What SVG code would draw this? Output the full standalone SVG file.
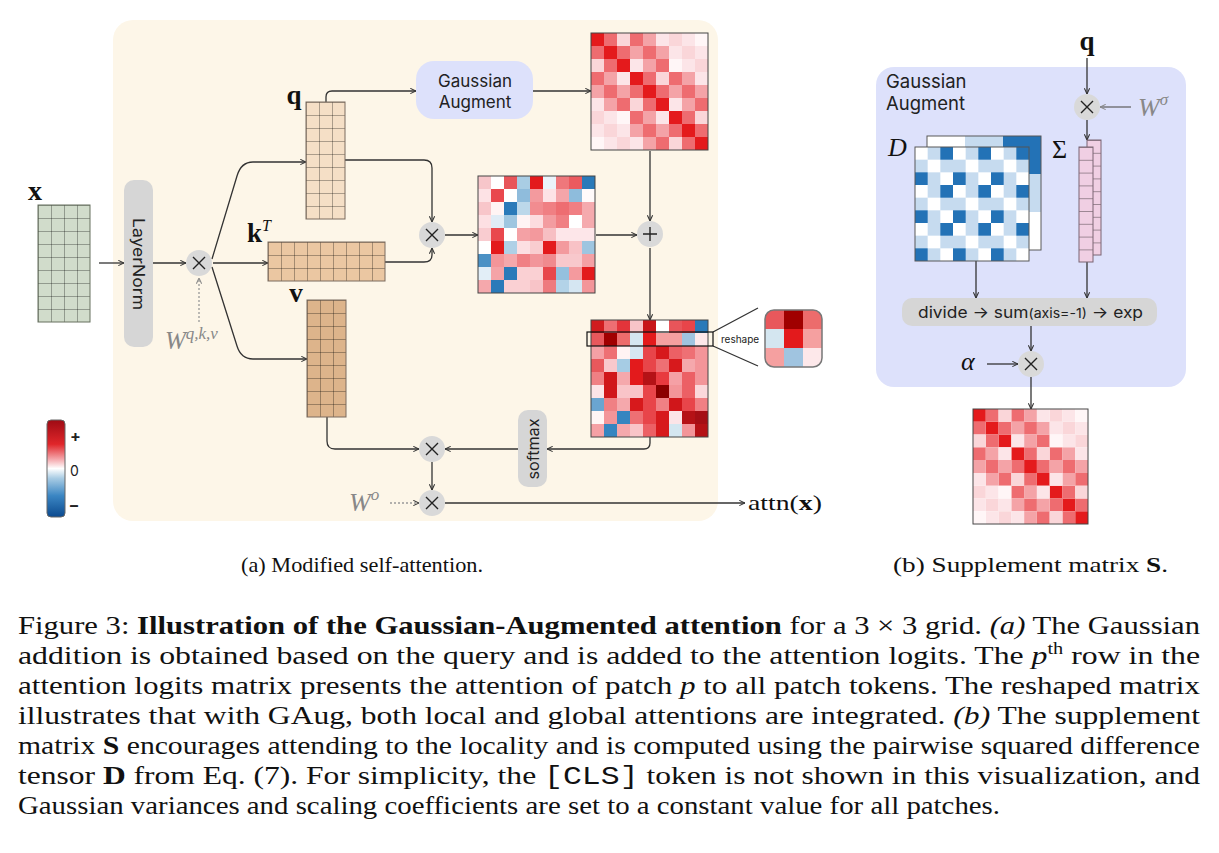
<svg xmlns="http://www.w3.org/2000/svg" width="1219" height="853" viewBox="0 0 1219 853">
<style>
.ln{fill:none;stroke:#333;stroke-width:1.3}
.ar{marker-end:url(#ah)}
.dt{fill:none;stroke:#999;stroke-width:1.3;stroke-dasharray:2 2}
.op{fill:#d9d9d9}
.gl{stroke:#222;stroke-width:1.4;fill:none}
.sans{font-family:Inter,"Open Sans","DejaVu Sans",sans-serif;fill:#222}
.serif{font-family:"Liberation Serif","Times New Roman",serif;fill:#111}
.math{font-family:"Liberation Serif","Times New Roman",serif;font-style:italic;fill:#888}
.bd{font-weight:bold}
.hm{stroke:#444;stroke-width:1;fill:none}
</style>
<defs>
<marker id="ah" viewBox="0 0 8 8" refX="7.5" refY="4" markerWidth="7" markerHeight="7" orient="auto" markerUnits="userSpaceOnUse">
<path d="M1,1 L7.5,4 L1,7" fill="none" stroke="#333" stroke-width="1.2"/>
</marker>
<marker id="ahg" viewBox="0 0 8 8" refX="7.5" refY="4" markerWidth="7" markerHeight="7" orient="auto" markerUnits="userSpaceOnUse">
<path d="M1,1 L7.5,4 L1,7" fill="none" stroke="#888" stroke-width="1.2"/>
</marker>
<pattern id="grid" width="13" height="13" patternUnits="userSpaceOnUse">
<path d="M0 .5H13M.5 0V13" stroke="#000" stroke-opacity=".3" stroke-width="1" fill="none"/>
</pattern>
<pattern id="sg" width="14" height="12.8" patternUnits="userSpaceOnUse">
<path d="M0 .5H14" stroke="#000" stroke-opacity=".35" stroke-width="1" fill="none"/>
</pattern>
<pattern id="dx" width="39" height="39" patternUnits="userSpaceOnUse">
<rect width="39" height="39" fill="#fff"/>
<path d="M13 0h13v13h-13zM0 13h13v13H0zM26 13h13v13h-13zM13 26h13v13h-13z" fill="#c6dbef"/>
<path d="M26 0h13v13h-13zM0 26h13v13H0z" fill="#2372b6"/>
</pattern>
<linearGradient id="cb" x1="0" y1="0" x2="0" y2="1">
<stop offset="0" stop-color="#9e0b14"/>
<stop offset=".25" stop-color="#e0262a"/>
<stop offset=".4" stop-color="#f4a3a8"/>
<stop offset=".5" stop-color="#ffffff"/>
<stop offset=".6" stop-color="#a9cce4"/>
<stop offset=".78" stop-color="#3b86c3"/>
<stop offset="1" stop-color="#0b4a8f"/>
</linearGradient>
<clipPath id="rc"><rect width="57" height="57" rx="9"/></clipPath>
<g id="gm">
<path fill="#e41a1c" d="M0 0h13v13h-13zM13 13h13v13h-13zM26 26h13v13h-13zM39 39h13v13h-13zM52 52h13v13h-13zM65 65h13v13h-13zM78 78h13v13h-13zM91 91h13v13h-13zM104 104h13v13h-13z"/>
<path fill="#ee6c70" d="M13 0h13v13h-13zM39 0h13v13h-13zM0 13h13v13h-13zM26 13h13v13h-13zM52 13h13v13h-13zM13 26h13v13h-13zM65 26h13v13h-13zM0 39h13v13h-13zM52 39h13v13h-13zM78 39h13v13h-13zM13 52h13v13h-13zM39 52h13v13h-13zM65 52h13v13h-13zM91 52h13v13h-13zM26 65h13v13h-13zM52 65h13v13h-13zM104 65h13v13h-13zM39 78h13v13h-13zM91 78h13v13h-13zM52 91h13v13h-13zM78 91h13v13h-13zM104 91h13v13h-13zM65 104h13v13h-13zM91 104h13v13h-13z"/>
<path fill="#f4a3a7" d="M52 0h13v13h-13zM39 13h13v13h-13zM65 13h13v13h-13zM52 26h13v13h-13zM13 39h13v13h-13zM91 39h13v13h-13zM0 52h13v13h-13zM26 52h13v13h-13zM78 52h13v13h-13zM104 52h13v13h-13zM13 65h13v13h-13zM91 65h13v13h-13zM52 78h13v13h-13zM39 91h13v13h-13zM65 91h13v13h-13zM52 104h13v13h-13z"/>
<path fill="#fad6d9" d="M26 0h13v13h-13zM78 0h13v13h-13zM91 13h13v13h-13zM0 26h13v13h-13zM104 26h13v13h-13zM65 39h13v13h-13zM39 65h13v13h-13zM0 78h13v13h-13zM104 78h13v13h-13zM13 91h13v13h-13zM26 104h13v13h-13zM78 104h13v13h-13z"/>
<path fill="#fce5e8" d="M65 0h13v13h-13zM91 0h13v13h-13zM78 13h13v13h-13zM104 13h13v13h-13zM39 26h13v13h-13zM91 26h13v13h-13zM26 39h13v13h-13zM104 39h13v13h-13zM0 65h13v13h-13zM78 65h13v13h-13zM13 78h13v13h-13zM65 78h13v13h-13zM0 91h13v13h-13zM26 91h13v13h-13zM13 104h13v13h-13zM39 104h13v13h-13z"/>
<path fill="#fff6f7" d="M104 0h13v13h-13zM78 26h13v13h-13zM26 78h13v13h-13zM0 104h13v13h-13z"/>
<rect class="hm" x="0" y="0" width="117" height="117"/>
</g>
</defs>

<rect id="panel-a" x="113" y="20" width="605" height="501" rx="20" fill="#fdf6e8"/>
<rect id="panel-b" x="876" y="67" width="310" height="320" rx="18" fill="#dde1fb"/>

<g id="connectors">
<path class="ln ar" d="M99,263H124"/>
<path class="ln ar" d="M153,263H186"/>
<path class="dt" d="M199,322V278" marker-end="url(#ahg)"/>
<path class="ln ar" d="M212,259L237,176Q241,162 253,162H306"/>
<path class="ln ar" d="M213,263H268"/>
<path class="ln ar" d="M212,267L237,346Q241,359 253,359H307"/>
<path class="ln ar" d="M326,102V97Q326,91 332,91H416"/>
<path class="ln ar" d="M533,91H591"/>
<path class="ln ar" d="M650,151V221"/>
<path class="ln ar" d="M345,160H424Q432,160 432,168V222"/>
<path class="ln ar" d="M385,262H424Q432,262 432,255V248"/>
<path class="ln ar" d="M445,235H478"/>
<path class="ln ar" d="M596,235H637"/>
<path class="ln ar" d="M650,248V320"/>
<path class="ln ar" d="M650,437V443Q650,449 644,449H547"/>
<path class="ln ar" d="M518,449H445"/>
<path class="ln ar" d="M327,417V441Q327,449 335,449H419"/>
<path class="ln ar" d="M432,462V490"/>
<path class="dt" d="M390,503H419" marker-end="url(#ah)"/>
<path class="ln ar" d="M445,503H745"/>
<path class="ln" d="M713,332L758,308M713,346L758,366"/>
<path class="ln ar" d="M1087,58V94"/>
<path class="ln" d="M1131,107H1100" marker-end="url(#ahg)" style="stroke:#666"/>
<path class="ln ar" d="M1087,120V140"/>
<path class="ln ar" d="M976,261V298"/>
<path class="ln ar" d="M1087,262V298"/>
<path class="ln ar" d="M1031,326V351"/>
<path class="ln ar" d="M987,364H1018"/>
<path class="ln ar" d="M1031,377V409"/>
</g>

<g id="input-x">
<text class="serif bd" x="35" y="200" font-size="28" text-anchor="middle">x</text>
<g transform="translate(38,205)">
<rect width="52" height="117" fill="#d1dccb"/>
<rect width="52" height="117" fill="url(#grid)" stroke="#66705f" stroke-width="1"/>
</g>
</g>

<g id="layernorm">
<rect x="124" y="180" width="29" height="167" rx="10" fill="#d6d6d6"/>
<text class="sans" transform="translate(138.5,264) rotate(90)" font-size="16" text-anchor="middle" dominant-baseline="central" textLength="92" lengthAdjust="spacingAndGlyphs">LayerNorm</text>
</g>

<g id="op-proj" transform="translate(199,263)"><circle r="13" class="op"/><path class="gl" d="M-6,-6L6,6M6,-6L-6,6"/></g>
<text id="w-qkv" class="math" x="165" y="349" font-size="25">W<tspan font-size="17" dy="-10">q,k,v</tspan></text>

<g id="mat-q">
<text class="serif bd" x="294" y="104" font-size="27" text-anchor="middle">q</text>
<g transform="translate(306,102)">
<rect width="39" height="117" fill="#f5dfc6"/>
<rect width="39" height="117" fill="url(#grid)" stroke="#7a6a5e" stroke-width="1"/>
</g>
</g>
<g id="mat-k">
<text class="serif bd" x="247" y="242" font-size="27">k<tspan font-size="16" font-style="italic" font-weight="normal" dy="-11">T</tspan></text>
<g transform="translate(268,242)">
<rect width="117" height="39" fill="#ebc7a2"/>
<rect width="117" height="39" fill="url(#grid)" stroke="#7a6a5e" stroke-width="1"/>
</g>
</g>
<g id="mat-v">
<text class="serif bd" x="296" y="302" font-size="27" text-anchor="middle">v</text>
<g transform="translate(307,300)">
<rect width="39" height="117" fill="#ddb48b"/>
<rect width="39" height="117" fill="url(#grid)" stroke="#7a6a5e" stroke-width="1"/>
</g>
</g>

<g id="gauss-aug-a">
<rect x="416" y="61" width="117" height="58" rx="18" fill="#dde1fb"/>
<text class="sans" x="475" y="87" font-size="17" text-anchor="middle">Gaussian</text>
<text class="sans" x="475" y="108" font-size="17" text-anchor="middle">Augment</text>
</g>

<g id="heat-gauss"><use href="#gm" transform="translate(591,33)"/></g>

<g id="op-qk" transform="translate(432,235)"><circle r="13" class="op"/><path class="gl" d="M-6,-6L6,6M6,-6L-6,6"/></g>
<g id="op-add" transform="translate(650,234)"><circle r="13" class="op"/><path class="gl" d="M-7,0H7M0,-7V7"/></g>

<g id="heat-logits" transform="translate(478,176)">
<rect x="0" y="0" width="13" height="13" fill="#f7c6ca"/><rect x="13" y="0" width="13" height="13" fill="#ffffff"/><rect x="26" y="0" width="13" height="13" fill="#e8555a"/><rect x="39" y="0" width="13" height="13" fill="#a9cde4"/><rect x="52" y="0" width="13" height="13" fill="#e31a1c"/><rect x="65" y="0" width="13" height="13" fill="#eaf3fa"/><rect x="78" y="0" width="13" height="13" fill="#ef777b"/><rect x="91" y="0" width="13" height="13" fill="#eb5a5f"/><rect x="104" y="0" width="13" height="13" fill="#2a7ab9"/>
<rect x="0" y="13" width="13" height="13" fill="#fde2e5"/><rect x="13" y="13" width="13" height="13" fill="#e9484d"/><rect x="26" y="13" width="13" height="13" fill="#ffffff"/><rect x="39" y="13" width="13" height="13" fill="#8fbcdc"/><rect x="52" y="13" width="13" height="13" fill="#f39a9e"/><rect x="65" y="13" width="13" height="13" fill="#fde3e6"/><rect x="78" y="13" width="13" height="13" fill="#f4a5a9"/><rect x="91" y="13" width="13" height="13" fill="#8ebcdc"/><rect x="104" y="13" width="13" height="13" fill="#fffafa"/>
<rect x="0" y="26" width="13" height="13" fill="#f8c6ca"/><rect x="13" y="26" width="13" height="13" fill="#fff4f4"/><rect x="26" y="26" width="13" height="13" fill="#2a7ab9"/><rect x="39" y="26" width="13" height="13" fill="#bcd8ea"/><rect x="52" y="26" width="13" height="13" fill="#f28c90"/><rect x="65" y="26" width="13" height="13" fill="#f07f83"/><rect x="78" y="26" width="13" height="13" fill="#ee6d71"/><rect x="91" y="26" width="13" height="13" fill="#f07f83"/><rect x="104" y="26" width="13" height="13" fill="#f5aaae"/>
<rect x="0" y="39" width="13" height="13" fill="#fde0e3"/><rect x="13" y="39" width="13" height="13" fill="#e0ecf6"/><rect x="26" y="39" width="13" height="13" fill="#9fc6e0"/><rect x="39" y="39" width="13" height="13" fill="#fff4f4"/><rect x="52" y="39" width="13" height="13" fill="#fcdcdf"/><rect x="65" y="39" width="13" height="13" fill="#f39ca0"/><rect x="78" y="39" width="13" height="13" fill="#f07f83"/><rect x="91" y="39" width="13" height="13" fill="#ffffff"/><rect x="104" y="39" width="13" height="13" fill="#f5aaae"/>
<rect x="0" y="52" width="13" height="13" fill="#f9ccd0"/><rect x="13" y="52" width="13" height="13" fill="#e9484d"/><rect x="26" y="52" width="13" height="13" fill="#ffffff"/><rect x="39" y="52" width="13" height="13" fill="#f4a1a5"/><rect x="52" y="52" width="13" height="13" fill="#f3999d"/><rect x="65" y="52" width="13" height="13" fill="#f7bfc3"/><rect x="78" y="52" width="13" height="13" fill="#fde6e9"/><rect x="91" y="52" width="13" height="13" fill="#fde6e9"/><rect x="104" y="52" width="13" height="13" fill="#fde6e9"/>
<rect x="0" y="65" width="13" height="13" fill="#ffffff"/><rect x="13" y="65" width="13" height="13" fill="#e31a1c"/><rect x="26" y="65" width="13" height="13" fill="#afd0e6"/><rect x="39" y="65" width="13" height="13" fill="#fcdfe2"/><rect x="52" y="65" width="13" height="13" fill="#f9cdd0"/><rect x="65" y="65" width="13" height="13" fill="#e31a1c"/><rect x="78" y="65" width="13" height="13" fill="#f39a9e"/><rect x="91" y="65" width="13" height="13" fill="#f8c2c6"/><rect x="104" y="65" width="13" height="13" fill="#9ec5e0"/>
<rect x="0" y="78" width="13" height="13" fill="#4b91c5"/><rect x="13" y="78" width="13" height="13" fill="#f39599"/><rect x="26" y="78" width="13" height="13" fill="#f5a8ac"/><rect x="39" y="78" width="13" height="13" fill="#f08084"/><rect x="52" y="78" width="13" height="13" fill="#f2959a"/><rect x="65" y="78" width="13" height="13" fill="#f08a8e"/><rect x="78" y="78" width="13" height="13" fill="#f8c8cc"/><rect x="91" y="78" width="13" height="13" fill="#f8c8cc"/><rect x="104" y="78" width="13" height="13" fill="#f4a0a4"/>
<rect x="0" y="91" width="13" height="13" fill="#e2eef7"/><rect x="13" y="91" width="13" height="13" fill="#f4a3a7"/><rect x="26" y="91" width="13" height="13" fill="#2a7ab9"/><rect x="39" y="91" width="13" height="13" fill="#fad0d3"/><rect x="52" y="91" width="13" height="13" fill="#fad0d3"/><rect x="65" y="91" width="13" height="13" fill="#e8464b"/><rect x="78" y="91" width="13" height="13" fill="#94c0de"/><rect x="91" y="91" width="13" height="13" fill="#f49a9e"/><rect x="104" y="91" width="13" height="13" fill="#e31a1c"/>
<rect x="0" y="104" width="13" height="13" fill="#f5a8ac"/><rect x="13" y="104" width="13" height="13" fill="#2a7ab9"/><rect x="26" y="104" width="13" height="13" fill="#fad0d3"/><rect x="39" y="104" width="13" height="13" fill="#fad0d3"/><rect x="52" y="104" width="13" height="13" fill="#f8c4c8"/><rect x="65" y="104" width="13" height="13" fill="#ee7a7e"/><rect x="78" y="104" width="13" height="13" fill="#b3d3e8"/><rect x="91" y="104" width="13" height="13" fill="#d5e6f2"/><rect x="104" y="104" width="13" height="13" fill="#f39599"/>
<rect class="hm" width="117" height="117"/>
</g>

<g id="heat-sum" transform="translate(591,320)">
<rect x="0" y="0" width="13" height="13" fill="#d01c1f"/><rect x="13" y="0" width="13" height="13" fill="#ee6f73"/><rect x="26" y="0" width="13" height="13" fill="#e3343a"/><rect x="39" y="0" width="13" height="13" fill="#f8c4c8"/><rect x="52" y="0" width="13" height="13" fill="#c8161a"/><rect x="65" y="0" width="13" height="13" fill="#ffffff"/><rect x="78" y="0" width="13" height="13" fill="#e8555a"/><rect x="91" y="0" width="13" height="13" fill="#e8454a"/><rect x="104" y="0" width="13" height="13" fill="#2a7ab9"/>
<rect x="0" y="13" width="13" height="13" fill="#e8585c"/><rect x="13" y="13" width="13" height="13" fill="#a00000"/><rect x="26" y="13" width="13" height="13" fill="#ec6c6c"/><rect x="39" y="13" width="13" height="13" fill="#d4e6f0"/><rect x="52" y="13" width="13" height="13" fill="#e31a1c"/><rect x="65" y="13" width="13" height="13" fill="#f5a0a0"/><rect x="78" y="13" width="13" height="13" fill="#f5a0a0"/><rect x="91" y="13" width="13" height="13" fill="#a0c4e0"/><rect x="104" y="13" width="13" height="13" fill="#fde8ea"/>
<rect x="0" y="26" width="13" height="13" fill="#f5a0a5"/><rect x="13" y="26" width="13" height="13" fill="#ee7074"/><rect x="26" y="26" width="13" height="13" fill="#fff3f3"/><rect x="39" y="26" width="13" height="13" fill="#d6e7f2"/><rect x="52" y="26" width="13" height="13" fill="#e8454a"/><rect x="65" y="26" width="13" height="13" fill="#d7191c"/><rect x="78" y="26" width="13" height="13" fill="#ec6065"/><rect x="91" y="26" width="13" height="13" fill="#ee7074"/><rect x="104" y="26" width="13" height="13" fill="#f39599"/>
<rect x="0" y="39" width="13" height="13" fill="#e8585c"/><rect x="13" y="39" width="13" height="13" fill="#f9c8cc"/><rect x="26" y="39" width="13" height="13" fill="#a6cce4"/><rect x="39" y="39" width="13" height="13" fill="#e31a1c"/><rect x="52" y="39" width="13" height="13" fill="#e8454a"/><rect x="65" y="39" width="13" height="13" fill="#ee7074"/><rect x="78" y="39" width="13" height="13" fill="#d7191c"/><rect x="91" y="39" width="13" height="13" fill="#f5a8ac"/><rect x="104" y="39" width="13" height="13" fill="#f39599"/>
<rect x="0" y="52" width="13" height="13" fill="#f08084"/><rect x="13" y="52" width="13" height="13" fill="#d0161a"/><rect x="26" y="52" width="13" height="13" fill="#f5a8ac"/><rect x="39" y="52" width="13" height="13" fill="#e31a1c"/><rect x="52" y="52" width="13" height="13" fill="#b51216"/><rect x="65" y="52" width="13" height="13" fill="#e83a3f"/><rect x="78" y="52" width="13" height="13" fill="#f5a0a5"/><rect x="91" y="52" width="13" height="13" fill="#ec6065"/><rect x="104" y="52" width="13" height="13" fill="#f39599"/>
<rect x="0" y="65" width="13" height="13" fill="#fce4e7"/><rect x="13" y="65" width="13" height="13" fill="#d0161a"/><rect x="26" y="65" width="13" height="13" fill="#f9c4c8"/><rect x="39" y="65" width="13" height="13" fill="#f9c4c8"/><rect x="52" y="65" width="13" height="13" fill="#e8454a"/><rect x="65" y="65" width="13" height="13" fill="#8b0000"/><rect x="78" y="65" width="13" height="13" fill="#f39599"/><rect x="91" y="65" width="13" height="13" fill="#ec6065"/><rect x="104" y="65" width="13" height="13" fill="#fbd8db"/>
<rect x="0" y="78" width="13" height="13" fill="#6aa5d0"/><rect x="13" y="78" width="13" height="13" fill="#f08084"/><rect x="26" y="78" width="13" height="13" fill="#f5a8ac"/><rect x="39" y="78" width="13" height="13" fill="#d7191c"/><rect x="52" y="78" width="13" height="13" fill="#e8454a"/><rect x="65" y="78" width="13" height="13" fill="#f08084"/><rect x="78" y="78" width="13" height="13" fill="#d0161a"/><rect x="91" y="78" width="13" height="13" fill="#e8454a"/><rect x="104" y="78" width="13" height="13" fill="#f08084"/>
<rect x="0" y="91" width="13" height="13" fill="#fff5f5"/><rect x="13" y="91" width="13" height="13" fill="#f39599"/><rect x="26" y="91" width="13" height="13" fill="#3585c0"/><rect x="39" y="91" width="13" height="13" fill="#ee7074"/><rect x="52" y="91" width="13" height="13" fill="#e8454a"/><rect x="65" y="91" width="13" height="13" fill="#d7191c"/><rect x="78" y="91" width="13" height="13" fill="#fce4e7"/><rect x="91" y="91" width="13" height="13" fill="#b51216"/><rect x="104" y="91" width="13" height="13" fill="#a50f15"/>
<rect x="0" y="104" width="13" height="13" fill="#f5a0a5"/><rect x="13" y="104" width="13" height="13" fill="#3585c0"/><rect x="26" y="104" width="13" height="13" fill="#f5a8ac"/><rect x="39" y="104" width="13" height="13" fill="#f9c4c8"/><rect x="52" y="104" width="13" height="13" fill="#ec6065"/><rect x="65" y="104" width="13" height="13" fill="#d7191c"/><rect x="78" y="104" width="13" height="13" fill="#d4e6f0"/><rect x="91" y="104" width="13" height="13" fill="#f39599"/><rect x="104" y="104" width="13" height="13" fill="#b51216"/>
<rect class="hm" width="117" height="117"/>
<rect x="-4" y="12" width="126" height="14" fill="none" stroke="#111" stroke-width="1.2"/>
</g>

<text id="reshape-label" class="sans" x="721" y="343" font-size="10">reshape</text>
<g id="reshaped" transform="translate(765,310)">
<g clip-path="url(#rc)">
<rect x="0" y="0" width="19" height="19" fill="#e8585c"/><rect x="19" y="0" width="19" height="19" fill="#a00000"/><rect x="38" y="0" width="19" height="19" fill="#ec6c6c"/>
<rect x="0" y="19" width="19" height="19" fill="#d4e6f0"/><rect x="19" y="19" width="19" height="19" fill="#e31a1c"/><rect x="38" y="19" width="19" height="19" fill="#f5a0a0"/>
<rect x="0" y="38" width="19" height="19" fill="#f5a0a0"/><rect x="19" y="38" width="19" height="19" fill="#a0c4e0"/><rect x="38" y="38" width="19" height="19" fill="#fde8ea"/>
</g>
<rect width="57" height="57" rx="9" fill="none" stroke="#777" stroke-width="1.5"/>
</g>

<g id="softmax">
<rect x="518" y="410" width="29" height="77" rx="10" fill="#d6d6d6"/>
<text class="sans" transform="translate(533,449) rotate(-90)" font-size="15" text-anchor="middle" dominant-baseline="central" textLength="61" lengthAdjust="spacingAndGlyphs">softmax</text>
</g>
<g id="op-av" transform="translate(432,449)"><circle r="13" class="op"/><path class="gl" d="M-6,-6L6,6M6,-6L-6,6"/></g>
<g id="op-out" transform="translate(432,503)"><circle r="13" class="op"/><path class="gl" d="M-6,-6L6,6M6,-6L-6,6"/></g>
<text id="w-o" class="math" x="349" y="511" font-size="26">W<tspan font-size="17" dy="-11">o</tspan></text>
<text id="attn" class="serif" x="748" y="510" font-size="22" textLength="74" lengthAdjust="spacingAndGlyphs">attn(<tspan class="bd">x</tspan>)</text>

<g id="colorbar">
<rect x="47" y="420" width="18" height="97" rx="4" fill="url(#cb)" stroke="#666" stroke-width="1"/>
<text class="sans bd" x="70" y="442" font-size="16">+</text>
<text class="sans" x="70" y="476" font-size="14">0</text>
<text class="sans bd" x="70" y="511" font-size="16">–</text>
</g>

<g id="gauss-aug-b">
<text class="sans" x="886" y="88" font-size="18.5">Gaussian</text>
<text class="sans" x="886" y="110" font-size="18.5">Augment</text>
</g>
<text id="q-b" class="serif bd" x="1087" y="50" font-size="27" text-anchor="middle">q</text>
<g id="op-sigma" transform="translate(1087,107)"><circle r="13" class="op"/><path class="gl" d="M-6,-6L6,6M6,-6L-6,6"/></g>
<text id="w-sigma" class="math" x="1138" y="116" font-size="26">W<tspan font-size="17" dy="-11">σ</tspan></text>

<g id="mat-D">
<text class="math" x="888" y="156" font-size="26" style="fill:#111">D</text>
<g transform="translate(927,136) scale(0.9744)">
<rect width="117" height="117" fill="#fff"/>
<path d="M39 0h39v39h-39zM0 39h39v39H0zM78 39h39v39h-39zM39 78h39v39h-39z" fill="#c6dbef"/>
<path d="M78 0h39v39h-39zM0 78h39v39H0z" fill="#2372b6"/>
<rect width="117" height="117" fill="none" stroke="#555" stroke-width="1"/>
</g>
<g transform="translate(915,147) scale(0.9744)">
<rect width="117" height="117" fill="url(#dx)" stroke="#555" stroke-width="1"/>
</g>
</g>

<g id="mat-Sigma">
<text class="serif" x="1052" y="158" font-size="26">Σ</text>
<g transform="translate(1087,140)">
<rect width="14" height="115" fill="#f0cfe3"/>
<rect width="14" height="115" fill="url(#sg)" stroke="#7a6473" stroke-width="1"/>
</g>
<g transform="translate(1079,147)">
<rect width="14" height="115" fill="#f0cfe3"/>
<rect width="14" height="115" fill="url(#sg)" stroke="#7a6473" stroke-width="1"/>
</g>
</g>

<g id="divide-box">
<rect x="902" y="298" width="255" height="28" rx="10" fill="#d6d6d6"/>
<text class="sans" x="918" y="318" font-size="16" textLength="225" lengthAdjust="spacingAndGlyphs">divide → sum<tspan font-size="13">(axis=-1)</tspan> → exp</text>
</g>
<text id="alpha" class="math" x="961" y="370" font-size="26" style="fill:#111">α</text>
<g id="op-alpha" transform="translate(1031,364)"><circle r="13" class="op"/><path class="gl" d="M-6,-6L6,6M6,-6L-6,6"/></g>

<g id="heat-S"><use href="#gm" transform="translate(973,409) scale(0.983)"/></g>

<text id="cap-a" class="serif" x="241" y="572" font-size="21" textLength="242" lengthAdjust="spacingAndGlyphs">(a) Modified self-attention.</text>
<text id="cap-b" class="serif" x="893" y="572" font-size="21" textLength="275" lengthAdjust="spacingAndGlyphs">(b) Supplement matrix <tspan class="bd">S</tspan>.</text>

<g id="caption" class="serif" font-size="25">
<text x="18" y="634" textLength="1182" lengthAdjust="spacingAndGlyphs">Figure 3: <tspan class="bd">Illustration of the Gaussian-Augmented attention</tspan> for a 3 × 3 grid. <tspan font-style="italic">(a)</tspan> The Gaussian</text>
<text x="18" y="664" textLength="1182" lengthAdjust="spacingAndGlyphs">addition is obtained based on the query and is added to the attention logits. The <tspan font-style="italic">p</tspan><tspan font-size="16" dy="-10">th</tspan><tspan dy="10"> row in the</tspan></text>
<text x="18" y="694" textLength="1182" lengthAdjust="spacingAndGlyphs">attention logits matrix presents the attention of patch <tspan font-style="italic">p</tspan> to all patch tokens. The reshaped matrix</text>
<text x="18" y="724" textLength="1182" lengthAdjust="spacingAndGlyphs">illustrates that with GAug, both local and global attentions are integrated. <tspan font-style="italic">(b)</tspan> The supplement</text>
<text x="18" y="754" textLength="1182" lengthAdjust="spacingAndGlyphs">matrix <tspan class="bd">S</tspan> encourages attending to the locality and is computed using the pairwise squared difference</text>
<text x="18" y="784" textLength="1182" lengthAdjust="spacingAndGlyphs">tensor <tspan class="bd">D</tspan> from Eq. (7). For simplicity, the <tspan font-family="Liberation Mono,monospace">[CLS]</tspan> token is not shown in this visualization, and</text>
<text x="18" y="814" textLength="982" lengthAdjust="spacingAndGlyphs">Gaussian variances and scaling coefficients are set to a constant value for all patches.</text>
</g>
</svg>
